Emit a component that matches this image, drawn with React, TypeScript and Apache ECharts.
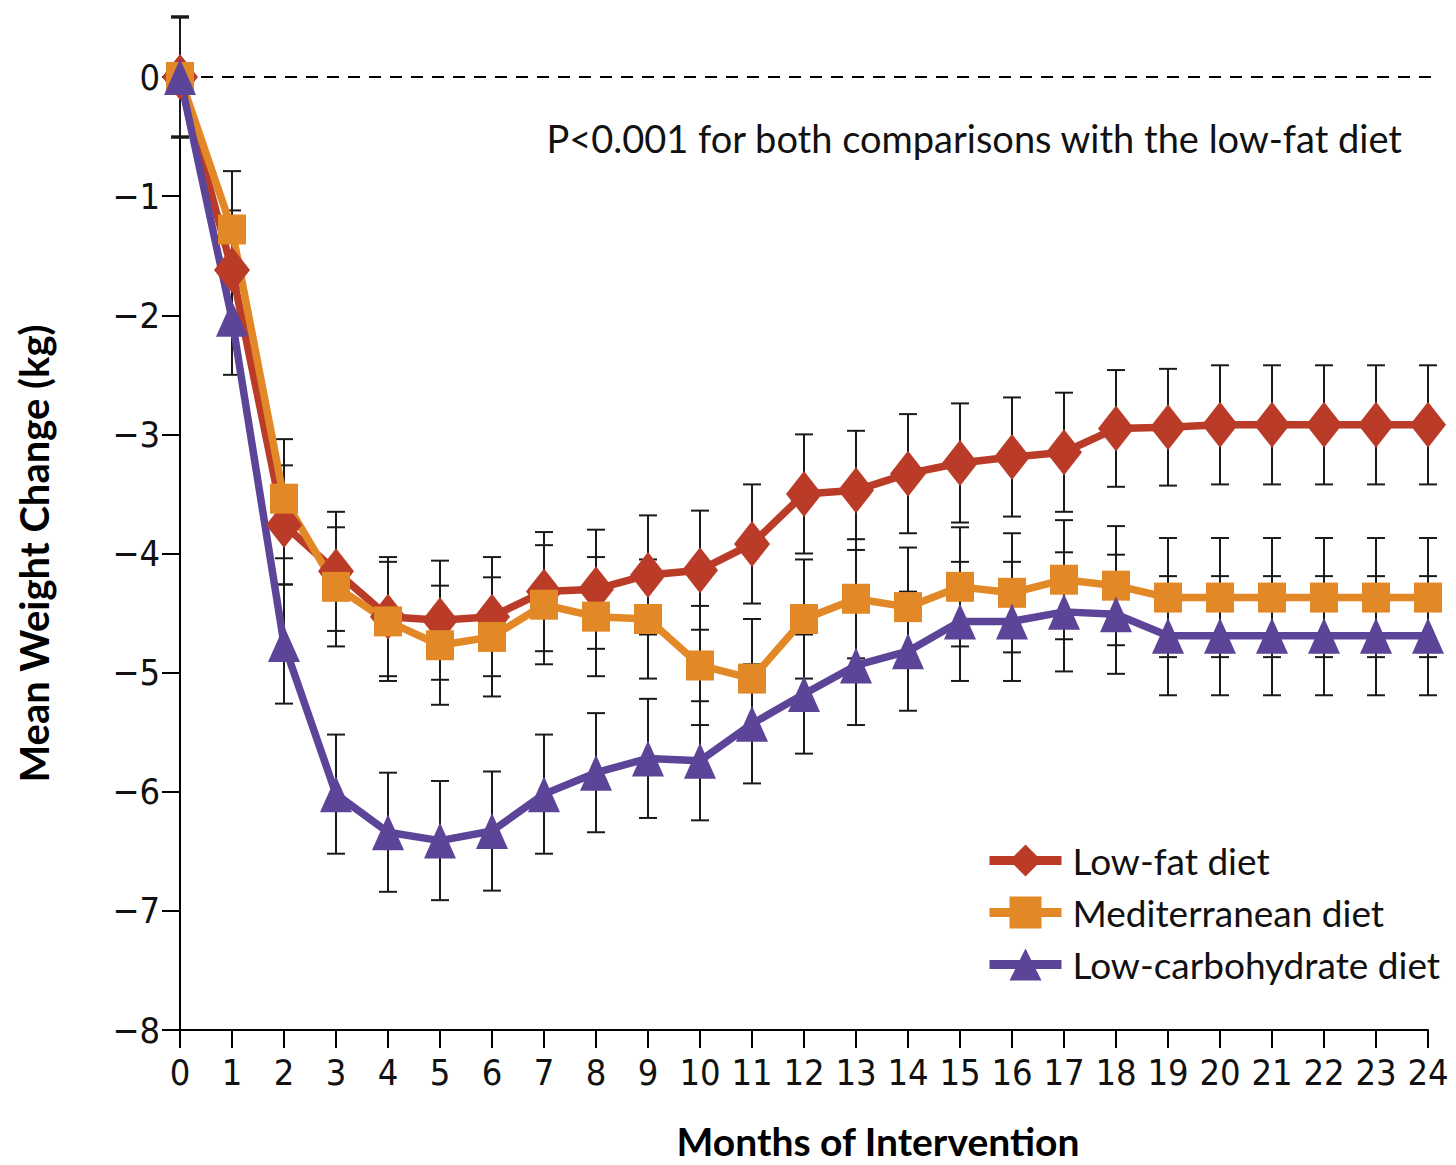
import React, { useEffect, useRef } from "react";
import * as echarts from "echarts";

const months = [0, 1, 2, 3, 4, 5, 6, 7, 8, 9, 10, 11, 12, 13, 14, 15, 16, 17, 18, 19, 20, 21, 22, 23, 24];
const lowFat = [0, -1.62, -3.76, -4.15, -4.53, -4.56, -4.53, -4.32, -4.3, -4.18, -4.14, -3.92, -3.5, -3.47, -3.33, -3.24, -3.19, -3.15, -2.95, -2.94, -2.92, -2.92, -2.92, -2.92, -2.92];
const mediterranean = [0, -1.28, -3.54, -4.28, -4.57, -4.77, -4.7, -4.43, -4.53, -4.55, -4.94, -5.05, -4.55, -4.38, -4.45, -4.28, -4.33, -4.22, -4.27, -4.37, -4.37, -4.37, -4.37, -4.37, -4.37];
const lowCarb = [0, -2.03, -4.76, -6.02, -6.34, -6.41, -6.33, -6.02, -5.84, -5.72, -5.74, -5.43, -5.18, -4.94, -4.82, -4.57, -4.57, -4.49, -4.51, -4.69, -4.69, -4.69, -4.69, -4.69, -4.69];
const lowFatErr = [0.51, 0.5, 0.5, 0.5, 0.5, 0.5, 0.5, 0.5, 0.5, 0.5, 0.5, 0.5, 0.5, 0.5, 0.5, 0.5, 0.5, 0.5, 0.49, 0.49, 0.5, 0.5, 0.5, 0.5, 0.5];
const medErr = [0.5, 0.49, 0.5, 0.5, 0.5, 0.5, 0.5, 0.5, 0.5, 0.5, 0.5, 0.5, 0.5, 0.5, 0.5, 0.5, 0.5, 0.5, 0.5, 0.5, 0.5, 0.5, 0.5, 0.5, 0.5];
const carbErr = [0.5, 0.47, 0.5, 0.5, 0.5, 0.5, 0.5, 0.5, 0.5, 0.5, 0.5, 0.5, 0.5, 0.5, 0.5, 0.5, 0.5, 0.5, 0.5, 0.5, 0.5, 0.5, 0.5, 0.5, 0.5];
const seriesNames = ["Low-fat diet", "Mediterranean diet", "Low-carbohydrate diet"];
const yTicks = [0, -1, -2, -3, -4, -5, -6, -7, -8];
const xTitle = "Months of Intervention";
const yTitle = "Mean Weight Change (kg)";
const note = "P<0.001 for both comparisons with the low-fat diet";

const RED = "#BA3B27";
const ORANGE = "#E38827";
const PURPLE = "#5C4498";
const FONT = "Lato, 'Open Sans', sans-serif";
const NUMFONT = "'Liberation Sans Narrow', 'DejaVu Sans Condensed', Lato, sans-serif";

function errSeries(vals: number[], errs: number[]) {
  return {
    type: "custom",
    silent: true,
    clip: false,
    z: 1,
    data: months.map((m, i) => [m, vals[i], errs[i]]),
    renderItem: (params: any, api: any) => {
      const x = api.value(0);
      const v = api.value(1);
      const e = api.value(2);
      const t = api.coord([x, v + e]);
      const b = api.coord([x, v - e]);
      const style = { stroke: "#1a1a1a", lineWidth: 2 };
      const cw = 9;
      return {
        type: "group",
        children: [
          { type: "line", shape: { x1: t[0], y1: t[1], x2: b[0], y2: b[1] }, style },
          { type: "line", shape: { x1: t[0] - cw, y1: t[1], x2: t[0] + cw, y2: t[1] }, style },
          { type: "line", shape: { x1: b[0] - cw, y1: b[1], x2: b[0] + cw, y2: b[1] }, style },
        ],
      };
    },
  };
}

function lineSeries(name: string, vals: number[], color: string, symbol: string, size: number[]) {
  return {
    type: "line",
    name,
    z: 3,
    data: months.map((m, i) => [m, vals[i]]),
    symbol,
    symbolSize: size,
    showAllSymbol: true,
    lineStyle: { color, width: 7.5 },
    itemStyle: { color, borderWidth: 0 },
  };
}

export default function App() {
  const ref = useRef<HTMLDivElement>(null);
  useEffect(() => {
    const chart = echarts.init(ref.current!, null, { renderer: "svg" });
    chart.setOption({
      animation: false,
      backgroundColor: "#ffffff",
      grid: { left: 180, right: 28, top: 77, bottom: 135 },
      legend: {
        orient: "vertical",
        left: 985,
        top: 842,
        padding: 0,
        itemWidth: 72,
        itemHeight: 40,
        itemGap: 15,
        data: seriesNames,
        lineStyle: { width: 9 },
        textStyle: { fontFamily: FONT, fontSize: 37, color: "#111", padding: [0, 0, 0, 6] },
      },
      xAxis: {
        type: "value",
        min: 0,
        max: 24,
        interval: 1,
        axisLine: { show: true, onZero: false, lineStyle: { color: "#000", width: 2 } },
        axisTick: { show: true, length: 18, lineStyle: { color: "#000", width: 2 } },
        axisLabel: { fontFamily: NUMFONT, fontSize: 36, color: "#111", margin: 24 },
        splitLine: { show: false },
      },
      yAxis: {
        type: "value",
        min: -8,
        max: 0,
        interval: 1,
        name: yTitle,
        nameLocation: "middle",
        nameGap: 126,
        nameTextStyle: { fontFamily: FONT, fontSize: 40, fontWeight: "bold", color: "#000" },
        axisLine: { show: true, onZero: false, lineStyle: { color: "#000", width: 2 } },
        axisTick: { show: true, length: 18, lineStyle: { color: "#000", width: 2 } },
        axisLabel: {
          fontFamily: NUMFONT,
          fontSize: 36,
          color: "#111",
          margin: 20,
          formatter: (v: number) => {
            const t = yTicks.find((k) => k === v);
            if (t === undefined) return "";
            return t === 0 ? "0" : "\u2212" + Math.abs(t);
          },
        },
        splitLine: { show: false },
      },
      graphic: [
        {
          type: "text",
          x: 1402,
          y: 138,
          style: {
            text: note,
            fontFamily: FONT,
            fontSize: 38,
            fill: "#111",
            textAlign: "right",
            textVerticalAlign: "middle",
          },
        },
        {
          type: "text",
          x: 878,
          y: 1141,
          style: {
            text: xTitle,
            fontFamily: FONT,
            fontSize: 39,
            fontWeight: "bold",
            fill: "#000",
            textAlign: "center",
            textVerticalAlign: "middle",
          },
        },
      ],
      series: [
        errSeries(lowFat, lowFatErr),
        errSeries(mediterranean, medErr),
        errSeries(lowCarb, carbErr),
        {
          ...lineSeries(seriesNames[0], lowFat, RED, "diamond", [36, 46]),
          markLine: {
            silent: true,
            symbol: "none",
            label: { show: false },
            lineStyle: { color: "#000", width: 2, type: [12, 9] },
            data: [[{ coord: [0, 0] }, { x: 1438, y: 77 }]],
            z: 0,
          },
        },
        lineSeries(seriesNames[1], mediterranean, ORANGE, "rect", [28, 30]),
        lineSeries(seriesNames[2], lowCarb, PURPLE, "triangle", [32, 36]),
      ],
    });
    return () => chart.dispose();
  }, []);
  return (
    <div
      ref={ref}
      style={{ position: "fixed", left: 0, top: 0, width: 1456, height: 1165, background: "#fff" }}
    />
  );
}
